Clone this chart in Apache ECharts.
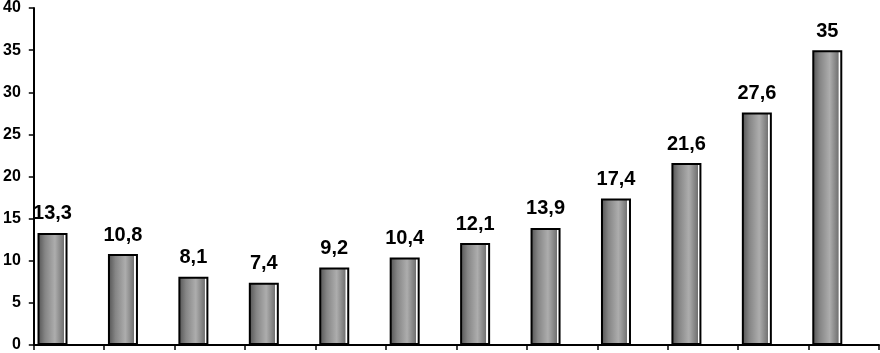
<!DOCTYPE html>
<html>
<head>
<meta charset="utf-8">
<script src="https://cdn.jsdelivr.net/npm/echarts@6/dist/echarts.min.js"></script>
<style>
    html, body { margin: 0; padding: 0; background: #fff; }
    #main { width: 880px; height: 353px; }
</style>
</head>
<body>
<div id="main"></div>
<script>
// data
var categories = ['1', '2', '3', '4', '5', '6', '7', '8', '9', '10', '11', '12'];
var values = [13.3, 10.8, 8.1, 7.4, 9.2, 10.4, 12.1, 13.9, 17.4, 21.6, 27.6, 35];
var yTicks = [0, 5, 10, 15, 20, 25, 30, 35, 40];

var myChart = echarts.init(document.getElementById('main'));

var barFill = new echarts.graphic.LinearGradient(0, 0, 1, 0, [
    { offset: 0, color: '#505050' },
    { offset: 0.25, color: '#858585' },
    { offset: 0.58, color: '#adadad' },
    { offset: 0.87, color: '#727272' },
    { offset: 0.88, color: '#ffffff' },
    { offset: 1, color: '#ffffff' }
]);

var option = {
    animation: false,
    grid: {
        left: 29,
        right: 1,
        top: 7,
        bottom: 6
    },
    xAxis: {
        type: 'category',
        data: categories,
        axisLine: { lineStyle: { color: '#000', width: 2 } },
        axisTick: { show: true, length: 5, lineStyle: { color: '#000', width: 1.5 } },
        axisLabel: { show: false }
    },
    yAxis: {
        type: 'value',
        min: yTicks[0],
        max: yTicks[yTicks.length - 1],
        interval: 5,
        axisLine: { show: true, lineStyle: { color: '#000', width: 2 } },
        axisTick: { show: true, length: 5, lineStyle: { color: '#000', width: 1.5 } },
        splitLine: { show: false },
        axisLabel: {
            margin: 13,
            color: '#000',
            fontFamily: 'Liberation Sans',
            fontWeight: 'bold',
            fontSize: 16
        }
    },
    series: [
        {
            type: 'bar',
            data: values,
            barWidth: 30,
            barGap: '10%',
            itemStyle: {
                color: barFill,
                borderColor: '#000',
                borderWidth: 2
            },
            label: {
                show: true,
                position: 'top',
                distance: 9,
                color: '#000',
                fontFamily: 'Liberation Sans',
                fontWeight: 'bold',
                fontSize: 20,
                formatter: function (p) {
                    return String(p.value).replace('.', ',');
                }
            }
        },
        {
            // empty companion series so the bars sit left in each category
            type: 'bar',
            data: values.map(function () { return null; }),
            barWidth: 30,
            silent: true
        }
    ]
};

myChart.setOption(option);
</script>
</body>
</html>
